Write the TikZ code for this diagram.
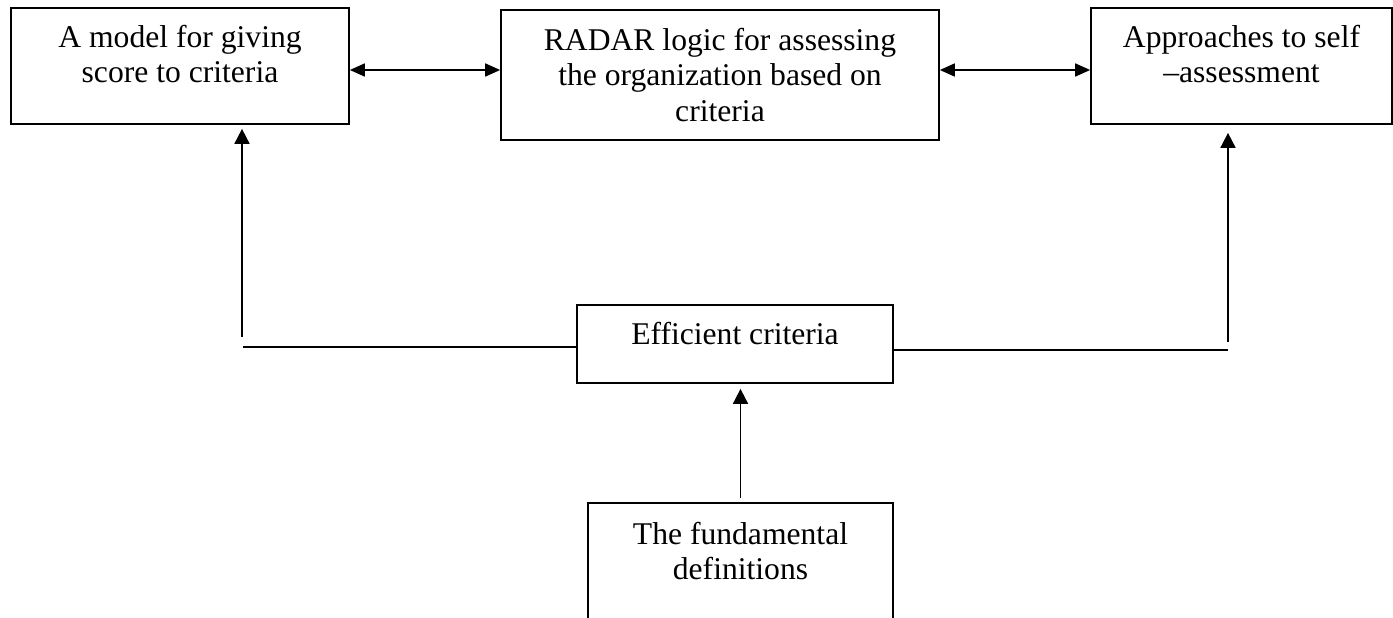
\documentclass[tikz,border=0pt]{standalone}
\usepackage{fontspec}
\setmainfont{Liberation Serif}
\usetikzlibrary{arrows.meta}

\begin{document}
\begin{tikzpicture}[
  x=0.02cm, y=-0.02cm,
  font=\fontsize{18pt}{20pt}\selectfont,
  box/.style={draw, line width=1pt, align=center, inner sep=0pt},
  openbox/.style={align=center, inner sep=0pt},
  link/.style={line width=1pt},
  arrow/.style={-{Triangle[length=0.3cm, width=0.3cm]}, line width=1pt},
  twoway/.style={{Triangle[length=0.3cm, width=0.26cm]}-{Triangle[length=0.3cm, width=0.26cm]}, line width=1pt}
]
\useasboundingbox (0,0) rectangle (1393,618);

\node[box, minimum width=6.76cm, minimum height=2.32cm] (score) at (180,66) {A model for giving\\score to criteria\\[-6pt]\mbox{}};
\node[box, minimum width=8.76cm, minimum height=2.6cm] (radar) at (720,75) {RADAR logic for assessing\\the organization based on\\criteria};
\node[box, minimum width=6.02cm, minimum height=2.32cm] (self) at (1241.5,66) {Approaches to self\\--assessment\\[-6pt]\mbox{}};
\node[box, minimum width=6.32cm, minimum height=1.56cm] (crit) at (735,344) {Efficient criteria\\[-8pt]\mbox{}};
\node[openbox, minimum width=6.1cm, minimum height=2.4cm] (defs) at (740.5,563) {The fundamental\\definitions\\[-6pt]\mbox{}};
\draw[link] (defs.south west) -- (defs.north west) -- (defs.north east) -- (defs.south east);

\coordinate (row) at (0,70);
\coordinate (lfoot) at (242,337);
\coordinate (lend) at (243,347);
\coordinate (rfoot) at (1228,342);
\coordinate (rend) at (1228,350);

\draw[twoway] (score.east |- row) -- (radar.west |- row);
\draw[twoway] (radar.east |- row) -- (self.west |- row);
\draw[link] (lend) -- (crit.west |- lend);
\draw[link] (crit.east |- rend) -- (rend);
\draw[arrow, shorten >=0.08cm] (lfoot) -- (lfoot |- score.south);
\draw[arrow, shorten >=0.16cm] (rfoot) -- (rfoot |- self.south);
\draw[arrow, shorten <=0.1cm, shorten >=0.1cm] (defs.north) -- (defs.north |- crit.south);
\end{tikzpicture}
\end{document}
